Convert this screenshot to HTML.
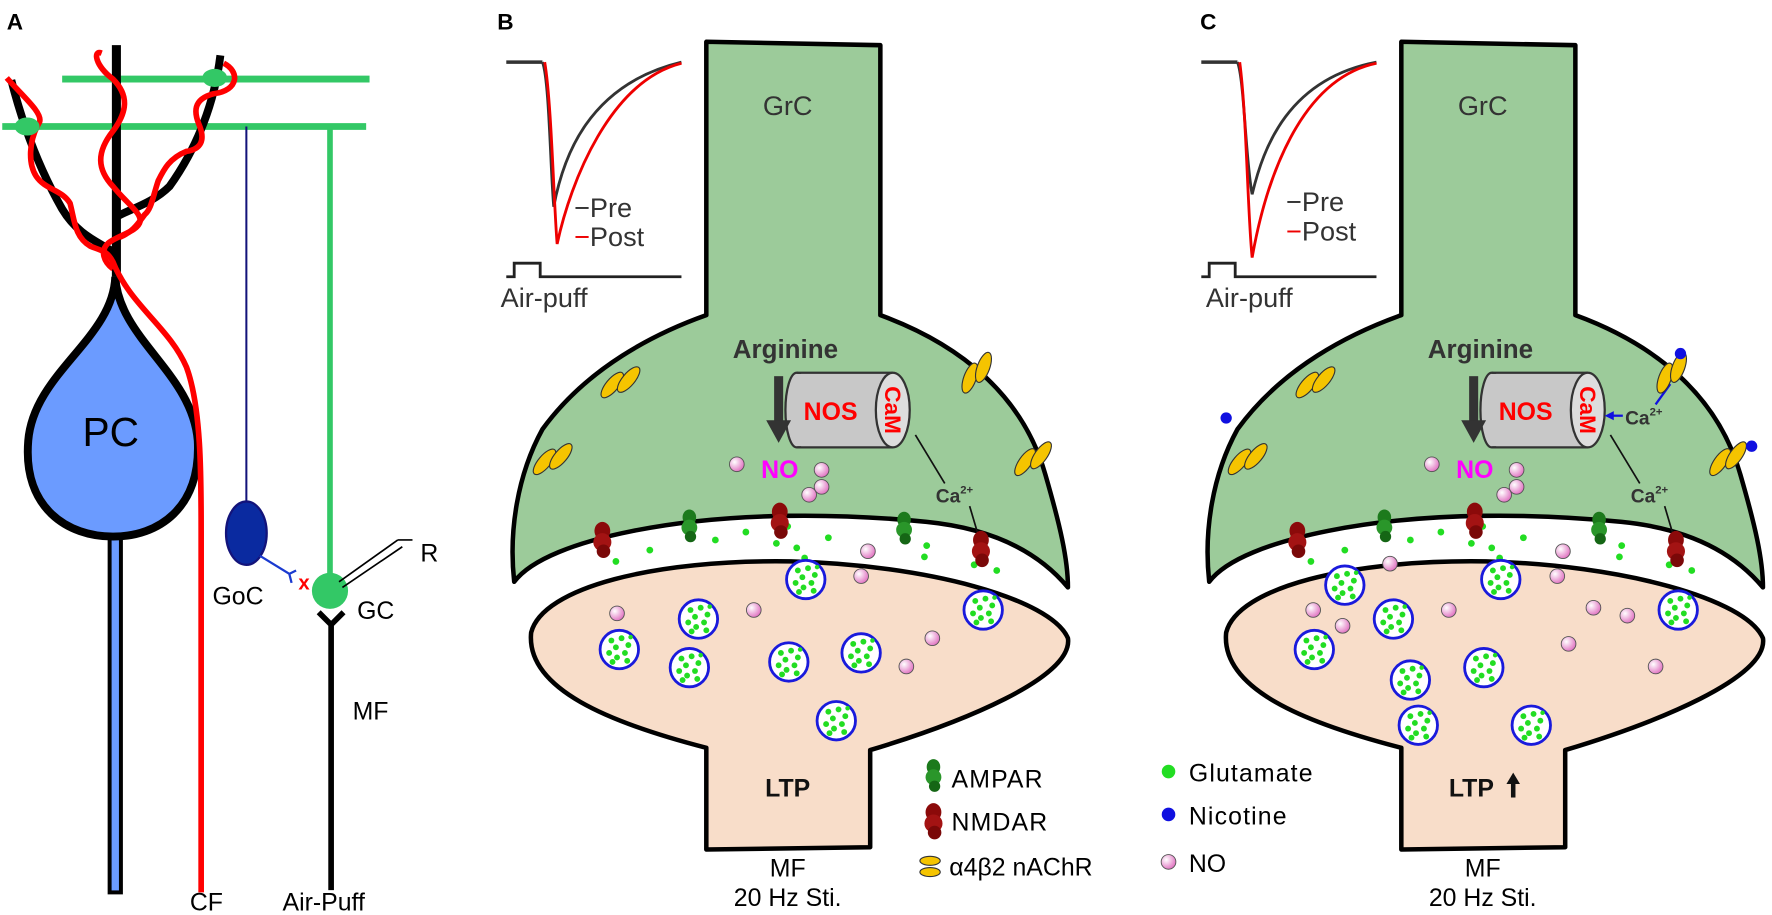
<!DOCTYPE html>
<html><head><meta charset="utf-8"><style>html,body{margin:0;padding:0;background:#fff;overflow:hidden}svg{display:block}text{font-family:"Liberation Sans",sans-serif}</style></head>
<body>
<svg width="1772" height="915" viewBox="0 0 1568 810" preserveAspectRatio="none" xmlns="http://www.w3.org/2000/svg">
<defs>
<g id="ves"><circle r="17" fill="#fff" stroke="#1a1adc" stroke-width="2.5"/>
<g fill="#22dd22"><circle cx="-7" cy="-8" r="2.6"/><circle cx="2" cy="-10" r="2.6"/><circle cx="8" cy="-4" r="2.6"/><circle cx="-3" cy="-2" r="2.6"/><circle cx="5" cy="3" r="2.6"/><circle cx="-9" cy="3" r="2.6"/><circle cx="-2" cy="7" r="2.6"/><circle cx="7" cy="10" r="2.6"/><circle cx="-6" cy="11" r="2.6"/><circle cx="10" cy="-11" r="2"/></g></g>
<g id="nmda"><ellipse cx="0" cy="-7" rx="7" ry="8" fill="#8b0a0a"/><ellipse cx="0" cy="3" rx="8" ry="8" fill="#a31313"/><ellipse cx="1" cy="11" rx="6" ry="6" fill="#7a0808"/></g>
<g id="ampa"><ellipse cx="0" cy="-7" rx="6" ry="7" fill="#1c7a1c"/><ellipse cx="0" cy="2" rx="7" ry="7" fill="#2a962a"/><ellipse cx="1" cy="10" rx="5" ry="5" fill="#156615"/></g>
<g id="nach"><ellipse cx="-5" cy="0" rx="14" ry="5.5" fill="#f5c400" stroke="#333" stroke-width="1"/><ellipse cx="5" cy="0" rx="14" ry="5.5" fill="#f5c400" stroke="#333" stroke-width="1" transform="translate(3,8)"/></g>
<radialGradient id="pk" cx="0.35" cy="0.35" r="0.7"><stop offset="0" stop-color="#fff"/><stop offset="1" stop-color="#e070c0"/></radialGradient>
<g id="no"><circle r="6.5" fill="url(#pk)" stroke="#555" stroke-width="0.8"/></g>
<g id="glu" fill="#22dd22"><circle cx="575" cy="487" r="3"/><circle cx="545" cy="497" r="3"/><circle cx="633" cy="478" r="3"/><circle cx="660" cy="471" r="3"/><circle cx="687" cy="481" r="3"/><circle cx="705" cy="485" r="3"/><circle cx="712" cy="494" r="3"/><circle cx="733" cy="476" r="3"/><circle cx="820" cy="483" r="3"/><circle cx="818" cy="493" r="3"/><circle cx="862" cy="500" r="3"/><circle cx="882" cy="505" r="3"/><circle cx="697" cy="466" r="3"/></g>
<g id="cell">
<path d="M625,37 L779,40 L779,279 C850,305 905,350 925,420 C938,465 945,495 945,520 C920,490 880,468 820,462 C750,455 650,452 560,470 C510,480 470,495 455,515 C450,470 458,420 480,380 C520,325 580,295 625,279 Z" fill="#9ccb9a" stroke="#000" stroke-width="4" stroke-linejoin="round"/>
<path d="M470,560 C480,520 580,495 700,497 C820,500 930,530 945,565 C950,600 850,640 770,664 L770,750 L625,752 L625,662 C540,640 465,610 470,560 Z" fill="#f8ddc9" stroke="#000" stroke-width="4" stroke-linejoin="round"/>
<path d="M448,55 L480,55" stroke="#333" stroke-width="3" fill="none"/>
<path d="M448,245 L455,245 L455,233 L478,233 L478,245 L603,245" stroke="#222" stroke-width="2.5" fill="none"/>
<rect x="705" y="330" width="85" height="66" fill="#c8c8c8"/>
<ellipse cx="705" cy="363" rx="10" ry="33" fill="#c8c8c8" stroke="#333" stroke-width="2"/>
<rect x="705" y="331" width="85" height="64" fill="#c8c8c8"/>
<line x1="705" y1="330" x2="790" y2="330" stroke="#333" stroke-width="2"/><line x1="705" y1="396" x2="790" y2="396" stroke="#333" stroke-width="2"/>
<ellipse cx="790" cy="363" rx="15" ry="33" fill="#ddd" stroke="#333" stroke-width="2"/>
<rect x="685" y="333" width="8" height="40" fill="#333"/><path d="M678,372 L700,372 L689,392 Z" fill="#333"/>
<line x1="810" y1="385" x2="836" y2="428" stroke="#111" stroke-width="1.5"/><line x1="858" y1="448" x2="866" y2="475" stroke="#111" stroke-width="1.5"/>
<use href="#glu"/>
</g>
</defs>

<!-- Panel A -->
<text x="6" y="26" font-size="20" font-weight="bold">A</text>
<line x1="55" y1="70" x2="327" y2="70" stroke="#33c866" stroke-width="6"/>
<line x1="2" y1="112" x2="324" y2="112" stroke="#33c866" stroke-width="6"/>
<line x1="218" y1="112" x2="218" y2="455" stroke="#13137a" stroke-width="1.8"/>
<line x1="292" y1="112" x2="292" y2="520" stroke="#33c866" stroke-width="5"/>
<path d="M103,40 L103,245" stroke="#000" stroke-width="8" fill="none"/>
<path d="M10,71 C20,110 35,150 55,185 C70,210 90,215 103,225" stroke="#000" stroke-width="7" fill="none"/>
<path d="M195,49 C190,90 175,130 150,165 C135,180 115,185 103,192" stroke="#000" stroke-width="7" fill="none"/>
<rect x="97" y="465" width="10" height="325" fill="#6b9bff" stroke="#000" stroke-width="3.5"/>
<path d="M102,245 C100,300 30,330 25,390 C20,450 60,475 100,475 C140,475 178,450 175,390 C170,330 105,300 102,245 Z" fill="#6b9bff" stroke="#000" stroke-width="7"/>
<path d="M6,69 C20,85 38,100 35,108 C25,125 25,145 32,156 C40,168 55,168 62,180 C66,195 66,210 80,218 C90,222 95,222 100,232 C115,270 150,290 165,325 C178,360 178,420 178,470 L178,790" stroke="#f00" stroke-width="5" fill="none"/>
<path d="M90,47 C82,44 84,58 100,70 C115,85 112,100 100,116 C85,135 86,150 100,165 C112,180 125,188 124,196 C122,205 105,208 96,215 C88,222 92,232 100,238" stroke="#f00" stroke-width="5" fill="none"/>
<path d="M198,56 C212,63 212,80 189,83 C170,88 172,100 176,110 C182,124 178,132 165,134 C150,140 145,150 140,160 C135,175 134,185 128,190 C122,198 118,205 106,210" stroke="#f00" stroke-width="5" fill="none"/>
<ellipse cx="24" cy="112" rx="11" ry="8" fill="#33c866"/><ellipse cx="190" cy="69" rx="11" ry="8" fill="#33c866"/>
<text x="98" y="395" font-size="36" text-anchor="middle">PC</text>
<ellipse cx="218" cy="472" rx="18" ry="28" fill="#0a2aa0" stroke="#13137a" stroke-width="2"/>
<path d="M230,492 L256,508 L262,505 M256,508 L258,516" stroke="#1a3ad0" stroke-width="2" fill="none"/>
<text x="264" y="522" font-size="18" fill="#f00" font-weight="bold">x</text>
<text x="188" y="535" font-size="22">GoC</text>
<circle cx="292" cy="523" r="16" fill="#33c866"/>
<path d="M300,515 L352,478 M303,520 L356,484 M352,478 L365,478" stroke="#000" stroke-width="1.5" fill="none"/>
<text x="372" y="497" font-size="22">R</text>
<text x="316" y="548" font-size="22">GC</text>
<path d="M282,542 L293,553 L304,542 M293,553 L293,788" stroke="#000" stroke-width="5" fill="none"/>
<text x="312" y="637" font-size="22">MF</text>
<text x="168" y="806" font-size="22">CF</text>
<text x="250" y="806" font-size="22">Air-Puff</text>

<!-- Panel B -->
<text x="440" y="26" font-size="20" font-weight="bold">B</text>
<use href="#cell"/>
<path d="M480,55 C486,70 487,150 490,183 C498,140 520,75 603,55" stroke="#333" stroke-width="2.5" fill="none"/>
<path d="M482,55 C488,90 490,180 493,216 C505,160 540,72 603,56" stroke="#e00" stroke-width="2.5" fill="none"/>
<text x="508" y="192" font-size="24" fill="#333">−Pre</text>
<text x="508" y="218" font-size="24" fill="#333"><tspan fill="#e00">−</tspan>Post</text>
<text x="443" y="272" font-size="24" fill="#333">Air-puff</text>
<text x="697" y="102" font-size="24" fill="#333" text-anchor="middle">GrC</text>
<text x="695" y="317" font-size="23" font-weight="bold" fill="#333" text-anchor="middle">Arginine</text>
<text x="735" y="372" font-size="22" font-weight="bold" fill="#f00" text-anchor="middle">NOS</text>
<text x="0" y="0" font-size="20" font-weight="bold" fill="#f00" text-anchor="middle" transform="translate(783,363) rotate(90)">CaM</text>
<text x="690" y="423" font-size="22" font-weight="bold" fill="#f0f" text-anchor="middle">NO</text>
<text x="828" y="445" font-size="17" font-weight="bold" fill="#333">Ca<tspan font-size="10" dy="-8">2+</tspan></text>
<use href="#nach" transform="translate(545,337) rotate(-50)"/><use href="#nach" transform="translate(485,405) rotate(-50)"/>
<use href="#nach" transform="translate(860,330) rotate(-70)"/><use href="#nach" transform="translate(910,405) rotate(-55)"/>
<use href="#nmda" x="533" y="477"/><use href="#nmda" x="690" y="460"/><use href="#nmda" x="868" y="485"/>
<use href="#ampa" x="610" y="465"/><use href="#ampa" x="800" y="467"/>
<use href="#no" x="652" y="411"/><use href="#no" x="727" y="416"/><use href="#no" x="716" y="438"/><use href="#no" x="727" y="431"/><use href="#no" x="768" y="488"/>
<use href="#no" x="546" y="543"/><use href="#no" x="667" y="540"/><use href="#no" x="762" y="510"/><use href="#no" x="825" y="565"/><use href="#no" x="802" y="590"/>
<use href="#ves" x="713" y="513"/><use href="#ves" x="870" y="540"/><use href="#ves" x="618" y="548"/><use href="#ves" x="548" y="575"/><use href="#ves" x="610" y="591"/><use href="#ves" x="698" y="586"/><use href="#ves" x="762" y="578"/><use href="#ves" x="740" y="638"/>
<text x="697" y="705" font-size="22" font-weight="bold" fill="#111" text-anchor="middle">LTP</text>
<text x="697" y="776" font-size="22" text-anchor="middle">MF</text>
<text x="697" y="802" font-size="22" text-anchor="middle">20 Hz Sti.</text>

<!-- Legend -->
<use href="#ampa" x="826" y="686"/><text x="842" y="697" font-size="22" letter-spacing="1">AMPAR</text>
<use href="#nmda" x="826" y="726"/><text x="842" y="735" font-size="22" letter-spacing="1">NMDAR</text>
<ellipse cx="823" cy="762" rx="9" ry="4" fill="#f5c400" stroke="#333"/><ellipse cx="823" cy="772" rx="9" ry="4" fill="#f5c400" stroke="#333"/>
<text x="840" y="775" font-size="22">α4β2 nAChR</text>
<circle cx="1034" cy="683" r="6" fill="#22dd22"/><text x="1052" y="692" font-size="22" letter-spacing="1">Glutamate</text>
<circle cx="1034" cy="721" r="6" fill="#1010e0"/><text x="1052" y="730" font-size="22" letter-spacing="1">Nicotine</text>
<use href="#no" x="1034" y="763"/><text x="1052" y="772" font-size="22">NO</text>

<!-- Panel C -->
<text x="1062" y="26" font-size="20" font-weight="bold">C</text>
<use href="#cell" transform="translate(615,0)"/>
<path d="M1095,55 C1101,70 1102,140 1108,172 C1118,130 1140,70 1218,55" stroke="#333" stroke-width="2.5" fill="none"/>
<path d="M1097,55 C1103,100 1104,190 1108,228 C1120,160 1150,70 1218,56" stroke="#e00" stroke-width="2.5" fill="none"/>
<text x="1138" y="187" font-size="24" fill="#333">−Pre</text>
<text x="1138" y="213" font-size="24" fill="#333"><tspan fill="#e00">−</tspan>Post</text>
<text x="1067" y="272" font-size="24" fill="#333">Air-puff</text>
<text x="1312" y="102" font-size="24" fill="#333" text-anchor="middle">GrC</text>
<text x="1310" y="317" font-size="23" font-weight="bold" fill="#333" text-anchor="middle">Arginine</text>
<text x="1350" y="372" font-size="22" font-weight="bold" fill="#f00" text-anchor="middle">NOS</text>
<text x="0" y="0" font-size="20" font-weight="bold" fill="#f00" text-anchor="middle" transform="translate(1398,363) rotate(90)">CaM</text>
<text x="1305" y="423" font-size="22" font-weight="bold" fill="#f0f" text-anchor="middle">NO</text>
<text x="1443" y="445" font-size="17" font-weight="bold" fill="#333">Ca<tspan font-size="10" dy="-8">2+</tspan></text>
<text x="1438" y="376" font-size="17" font-weight="bold" fill="#333">Ca<tspan font-size="10" dy="-8">2+</tspan></text>
<path d="M1436,368 L1422,368" stroke="#1010e0" stroke-width="2"/><path d="M1420,368 L1428,364 L1428,372 Z" fill="#1010e0"/>
<path d="M1478,340 L1465,358" stroke="#1010e0" stroke-width="2"/>
<use href="#nach" transform="translate(1160,337) rotate(-50)"/><use href="#nach" transform="translate(1100,405) rotate(-50)"/>
<use href="#nach" transform="translate(1475,330) rotate(-70)"/><use href="#nach" transform="translate(1525,405) rotate(-55)"/>
<circle cx="1487" cy="313" r="5" fill="#1010e0"/><circle cx="1085" cy="370" r="5" fill="#1010e0"/><circle cx="1550" cy="395" r="5" fill="#1010e0"/>
<use href="#nmda" x="1148" y="477"/><use href="#nmda" x="1305" y="460"/><use href="#nmda" x="1483" y="485"/>
<use href="#ampa" x="1225" y="465"/><use href="#ampa" x="1415" y="467"/>
<use href="#no" x="1267" y="411"/><use href="#no" x="1342" y="416"/><use href="#no" x="1331" y="438"/><use href="#no" x="1342" y="431"/><use href="#no" x="1383" y="488"/>
<use href="#no" x="1230" y="499"/><use href="#no" x="1162" y="540"/><use href="#no" x="1188" y="554"/><use href="#no" x="1282" y="540"/><use href="#no" x="1378" y="510"/><use href="#no" x="1410" y="538"/><use href="#no" x="1440" y="545"/><use href="#no" x="1388" y="570"/><use href="#no" x="1465" y="590"/>
<use href="#ves" x="1190" y="518"/><use href="#ves" x="1328" y="513"/><use href="#ves" x="1485" y="540"/><use href="#ves" x="1233" y="548"/><use href="#ves" x="1163" y="575"/><use href="#ves" x="1248" y="602"/><use href="#ves" x="1313" y="591"/><use href="#ves" x="1255" y="642"/><use href="#ves" x="1355" y="642"/>
<text x="1302" y="705" font-size="22" font-weight="bold" fill="#111" text-anchor="middle">LTP</text>
<path d="M1339,706 L1339,693" stroke="#111" stroke-width="4"/><path d="M1333,694 L1339,684 L1345,694 Z" fill="#111"/>
<text x="1312" y="776" font-size="22" text-anchor="middle">MF</text>
<text x="1312" y="802" font-size="22" text-anchor="middle">20 Hz Sti.</text>
</svg>
</body></html>
